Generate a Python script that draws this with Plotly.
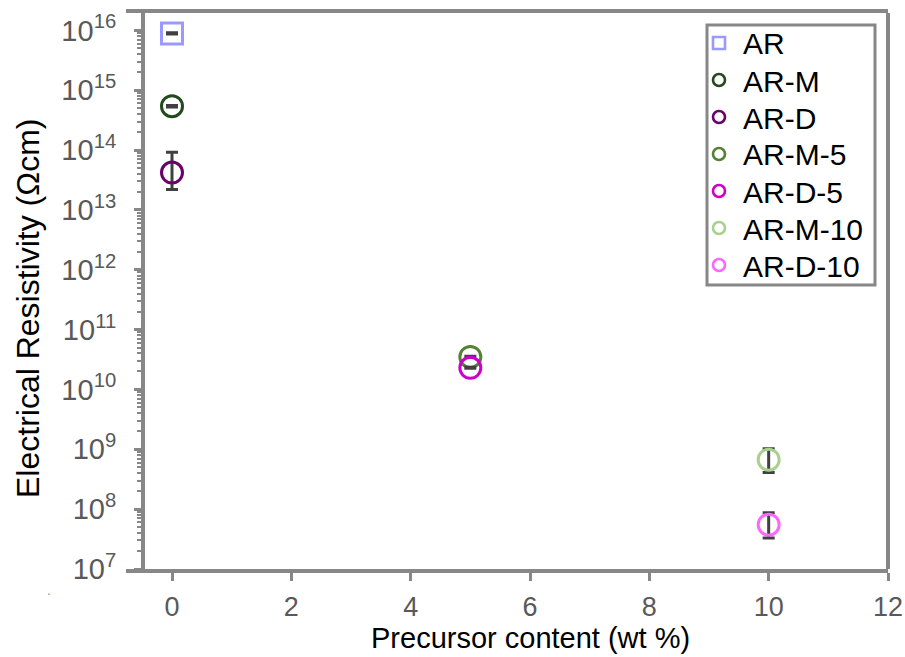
import plotly.graph_objects as go

# ---- data ----
series_names = ["AR", "AR-M", "AR-D", "AR-M-5", "AR-D-5", "AR-M-10", "AR-D-10"]
precursor_wt = [0, 0, 0, 5, 5, 10, 10]
resistivity = [8.9e15, 5.4e14, 4.2e13, 3.5e10, 2.3e10, 6.7e8, 5.5e7]
err_plus = [2.0e14, 1.5e13, 5.0e13, 8.0e8, 5.0e8, 3.5e8, 3.2e7]
err_minus = [2.0e14, 1.5e13, 2.0e13, 8.0e8, 5.0e8, 2.6e8, 2.2e7]
colors = ["#9999ff", "#224a1c", "#6b006b", "#548235", "#cc00cc", "#a9d18e", "#ff66ff"]
symbols = ["square-open", "circle-open", "circle-open", "circle-open",
           "circle-open", "circle-open", "circle-open"]

x_ticks = [0, 2, 4, 6, 8, 10, 12]
y_exponents = list(range(7, 17))
y_tickvals = [10 ** e for e in y_exponents]
y_ticktext = ["10<sup>%d</sup>" % e for e in y_exponents]
y_minor = [m * 10 ** e for e in range(7, 16) for m in range(2, 10)]

AXIS_GRAY = "#878787"
LABEL_GRAY = "#595959"

# plot-area pixel geometry (for the hand-built legend box)
L, R, T, B = 126, 888, 13, 569
def px(xp):
    return (xp - L) / (R - L)
def py(yp):
    return (B - yp) / (B - T)

fig = go.Figure()
for name, xv, yv, ep, em, c, s in zip(series_names, precursor_wt, resistivity,
                                       err_plus, err_minus, colors, symbols):
    fig.add_trace(go.Scatter(
        x=[xv], y=[yv], name=name, mode="markers", showlegend=False,
        marker=dict(symbol=s, size=21, color=c, line=dict(color=c, width=3)),
        error_y=dict(type="data", symmetric=False, array=[ep], arrayminus=[em],
                     color="#404040", thickness=3, width=6),
    ))

shapes = [
    dict(type="line", xref="paper", yref="paper", x0=1, x1=1, y0=0, y1=1,
         line=dict(color=AXIS_GRAY, width=4)),
    # legend frame
    dict(type="rect", xref="paper", yref="paper", x0=px(707), x1=px(875),
         y0=py(285), y1=py(25), line=dict(color=AXIS_GRAY, width=3),
         fillcolor="white", layer="above"),
]
annotations = [
    dict(text="Precursor content (wt %)", xref="paper", yref="paper",
         x=px(530), y=py(656), xanchor="center", yanchor="bottom",
         showarrow=False, font=dict(size=29, color="black")),
    dict(text="Electrical Resistivity (Ωcm)", xref="paper", yref="paper",
         x=px(28), y=py(308), xanchor="center", yanchor="middle",
         textangle=-90, showarrow=False, font=dict(size=32, color="black")),
    dict(text=".", xref="paper", yref="paper", x=px(45), y=py(600),
         showarrow=False, font=dict(size=14, color="#9a9a9a")),
]
for i, (name, c, s) in enumerate(zip(series_names, colors, symbols)):
    yc = 43 + 37 * i
    shapes.append(dict(
        type="rect" if s.startswith("square") else "circle",
        xref="paper", yref="paper", xsizemode="pixel", ysizemode="pixel",
        xanchor=px(719), yanchor=py(yc), x0=-6, x1=6, y0=-6, y1=6,
        line=dict(color=c, width=2.6), fillcolor="rgba(0,0,0,0)", layer="above"))
    annotations.append(dict(
        text=name, xref="paper", yref="paper", x=px(741), y=py(yc + 1),
        xanchor="left", yanchor="middle", showarrow=False,
        font=dict(size=30, color="black")))

fig.update_layout(
    width=905, height=657,
    margin=dict(l=L, r=905 - R, t=T, b=657 - B, autoexpand=False),
    paper_bgcolor="white", plot_bgcolor="white",
    font=dict(family="Arial, Liberation Sans, sans-serif", color="black"),
    showlegend=False,
    xaxis=dict(
        range=[-0.771, 12], tickvals=x_ticks, ticks="outside", ticklen=8,
        tickwidth=3, tickcolor=AXIS_GRAY, showline=True, linewidth=4,
        linecolor=AXIS_GRAY, mirror=True, showgrid=False, zeroline=False,
        automargin=False,
        tickfont=dict(size=27, color=LABEL_GRAY), ticklabelstandoff=3,
    ),
    yaxis=dict(
        type="log", range=[7, 16.29], anchor="free", position=0.0223,
        tickmode="array", tickvals=y_tickvals, ticktext=y_ticktext,
        ticks="outside", ticklen=7, tickwidth=3, tickcolor=AXIS_GRAY,
        showline=True, linewidth=4, linecolor=AXIS_GRAY, showgrid=False,
        zeroline=False, automargin=False,
        tickfont=dict(size=29, color=LABEL_GRAY), ticklabelstandoff=12,
        minor=dict(tickvals=y_minor, ticks="outside", ticklen=4, tickwidth=2,
                   tickcolor=AXIS_GRAY, showgrid=False),
    ),
    shapes=shapes,
    annotations=annotations,
)

fig.write_html("out.html")
